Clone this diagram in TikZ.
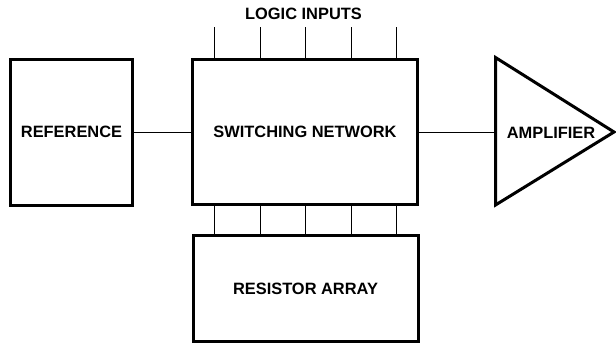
\documentclass[tikz,border=0pt]{standalone}
\usepackage{fontspec}
\setmainfont{Liberation Sans}
\usepackage{tikz}
\usetikzlibrary{calc}
\tikzset{
  blk/.style={draw,line width=3pt,inner sep=0pt,font=\lbl},
  wire/.style={line width=1pt},
  lbl/.style={font=\lbl,inner sep=0pt}
}
\newcommand{\lbl}{\fontsize{16.4}{18}\selectfont\bfseries}

\begin{document}
\begin{tikzpicture}[x=1pt,y=-1pt]
    \useasboundingbox (0,0) rectangle (616,346);
    \node[blk,minimum width=122,minimum height=146] (ref) at (71.5,132) {REFERENCE};
    \node[blk,minimum width=225,minimum height=145] (sw) at (305,132) {SWITCHING NETWORK};
    \node[blk,minimum width=225,minimum height=106] (res) at (305.5,288.5) {RESISTOR ARRAY};
    \draw[line width=3pt] (495.5,57.5) coordinate (amptop) -- (614,132) -- (495.5,205) -- cycle;
    \coordinate (ampin) at (495.5,132);
    \node[lbl] (amp) at (551,133) {AMPLIFIER};
    \node[lbl] (logic) at (303.5,13.5) {LOGIC INPUTS};
    \draw[wire] (ref) -- (sw);
    \draw[wire] (sw) -- (ampin);
    \foreach \x [count=\i] in {214,260,305,351,396} {
      \coordinate (in\i) at (\x,27);
      \draw[wire] (in\i) -- (in\i |- sw.north);
      \draw[wire] (sw.south -| in\i) -- (res.north -| in\i);
    }
  \end{tikzpicture}
\end{document}
